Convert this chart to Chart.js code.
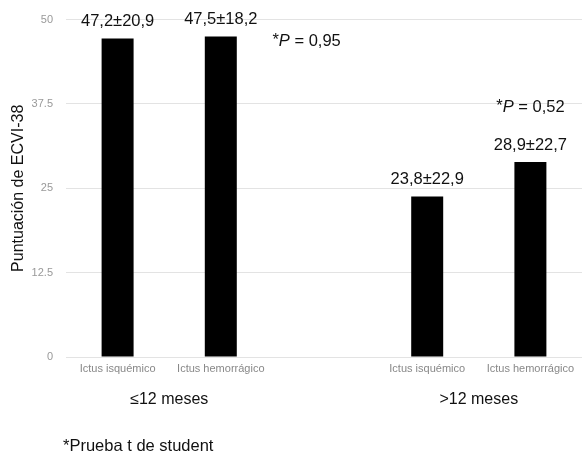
<!DOCTYPE html>
<html>
<head>
<meta charset="utf-8">
<script src="https://cdn.jsdelivr.net/npm/chart.js@4/dist/chart.umd.min.js"></script>
<style>
  html, body { margin: 0; padding: 0; background: #fff; }
  #wrap { width: 582px; height: 454px; }
</style>
</head>
<body>
<div id="wrap"><canvas id="c" width="582" height="454"></canvas></div>
<script>
// Bar categories (an empty slot separates the two time groups)
const categories = ['Ictus isquémico', 'Ictus hemorrágico', '', 'Ictus isquémico', 'Ictus hemorrágico'];
// Mean ECVI-38 score and standard deviation per bar
const means = [47.2, 47.5, null, 23.8, 28.9];
const sds = [20.9, 18.2, null, 22.9, 22.7];
// Time groups and the bars they span
const groups = ['≤12 meses', '>12 meses'];
const groupBars = [[0, 1], [3, 4]];
// Student t-test p values for each group
const pValues = ['0,95', '0,52'];
// Y axis tick labels
const yTicks = ['0', '12.5', '25', '37.5', '50'];

const FONT = '"Liberation Sans", Arial, Helvetica, sans-serif';
const fmt = v => v.toFixed(1).replace('.', ',');

const annotations = {
  id: 'annotations',
  afterDatasetsDraw(chart) {
    const ctx = chart.ctx;
    const meta = chart.getDatasetMeta(0);
    const x = chart.scales.x, y = chart.scales.y;
    ctx.save();
    ctx.fillStyle = '#111';
    ctx.font = '16.5px ' + FONT;
    ctx.textAlign = 'center';
    ctx.textBaseline = 'middle';
    // mean ± SD above each bar
    meta.data.forEach((bar, i) => {
      if (means[i] == null) return;
      ctx.fillText(fmt(means[i]) + '±' + fmt(sds[i]), bar.x, bar.y - 17);
    });

    // p value text with italic P
    const drawP = (val, px, py, align) => {
      const a = '*', b = 'P', c = ' = ' + val;
      ctx.font = '16.5px ' + FONT;
      const wa = ctx.measureText(a).width, wc = ctx.measureText(c).width;
      ctx.font = 'italic 16.5px ' + FONT;
      const wb = ctx.measureText(b).width;
      const total = wa + wb + wc;
      const sx = align === 'center' ? px - total / 2 : px;
      ctx.textAlign = 'left';
      ctx.font = '16.5px ' + FONT;
      ctx.fillText(a, sx, py - 1);
      ctx.font = 'italic 16.5px ' + FONT;
      ctx.fillText(b, sx + wa, py);
      ctx.font = '16.5px ' + FONT;
      ctx.fillText(c, sx + wa + wb, py);
    };
    drawP(pValues[0], x.getPixelForValue(1.5), y.getPixelForValue(46.8), 'left');
    drawP(pValues[1], x.getPixelForValue(4), y.getPixelForValue(37.0), 'center');

    // group labels under the category ticks
    ctx.textAlign = 'center';
    ctx.font = '16px ' + FONT;
    ctx.fillStyle = '#111';
    groups.forEach((g, i) => {
      const [a, b] = groupBars[i];
      const cx = (x.getPixelForValue(a) + x.getPixelForValue(b)) / 2;
      ctx.fillText(g, cx, 400);
    });

    // footnote
    ctx.textAlign = 'left';
    ctx.font = '16.5px ' + FONT;
    ctx.fillText('*Prueba t de student', 63, 446);
    ctx.restore();
  }
};

new Chart(document.getElementById('c'), {
  type: 'bar',
  data: {
    labels: categories,
    datasets: [{
      data: means,
      backgroundColor: '#000',
      borderWidth: 0,
      barPercentage: 0.31,
      categoryPercentage: 1.0
    }]
  },
  options: {
    responsive: false,
    animation: false,
    devicePixelRatio: 1,
    layout: { padding: { top: 18, right: 0, bottom: 0, left: 0 } },
    plugins: { legend: { display: false }, tooltip: { enabled: false } },
    scales: {
      x: {
        grid: { display: false, drawTicks: false },
        border: { display: true, color: '#e3e3e3', width: 1 },
        ticks: {
          color: '#888',
          font: { family: FONT, size: 11 },
          padding: 5,
          maxRotation: 0,
          autoSkip: false
        },
        afterFit(scale) { scale.height = 97; }
      },
      y: {
        min: 0,
        max: 50,
        grid: { color: '#e3e3e3', drawTicks: false },
        border: { display: false },
        ticks: {
          stepSize: 12.5,
          color: '#999',
          font: { family: FONT, size: 11 },
          padding: 13,
          callback: (v, i) => yTicks[i]
        },
        title: {
          display: true,
          text: 'Puntuación de ECVI-38',
          color: '#111',
          font: { family: FONT, size: 16 },
          padding: { top: 9, bottom: 0 }
        },
        afterFit(scale) { scale.width = 66; }
      }
    }
  },
  plugins: [annotations]
});
</script>
</body>
</html>
